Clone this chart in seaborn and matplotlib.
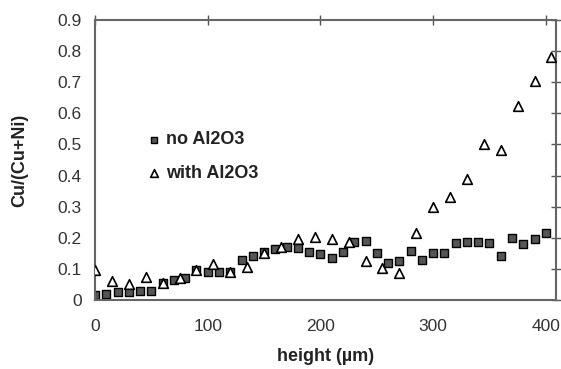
import numpy as np
import pandas as pd
import matplotlib
matplotlib.use("Agg")
import matplotlib.pyplot as plt
import seaborn as sns

# no Al2O3 (squares), height every 10 um
h_no = [0, 10, 20, 30, 40, 50, 60, 70, 80, 90, 100, 110, 120, 130, 140, 150, 160, 170,
        180, 190, 200, 210, 220, 230, 240, 250, 260, 270, 280, 290, 300, 310, 320, 330,
        340, 350, 360, 370, 380, 390, 400]
v_no = [0.016, 0.018, 0.025, 0.025, 0.03, 0.03, 0.055, 0.065, 0.07, 0.095, 0.09, 0.09,
        0.09, 0.128, 0.14, 0.154, 0.163, 0.17, 0.167, 0.155, 0.148, 0.135, 0.155, 0.187,
        0.19, 0.151, 0.12, 0.125, 0.158, 0.13, 0.15, 0.152, 0.183, 0.186, 0.186, 0.183,
        0.14, 0.2, 0.18, 0.195, 0.215]

# with Al2O3 (triangles), height every 15 um
h_with = [0, 15, 30, 45, 60, 75, 90, 105, 120, 135, 150, 165, 180, 195, 210, 225, 240,
          255, 270, 285, 300, 315, 330, 345, 360, 375, 390, 405]
v_with = [0.098, 0.062, 0.05, 0.074, 0.055, 0.07, 0.095, 0.115, 0.09, 0.105, 0.152, 0.17,
          0.195, 0.202, 0.197, 0.187, 0.126, 0.103, 0.087, 0.216, 0.30, 0.33, 0.39, 0.50,
          0.483, 0.624, 0.705, 0.78]

labels = ["no Al2O3", "with Al2O3"]

sns.set_style("white")
plt.rcParams['font.family'] = ['Liberation Sans', 'DejaVu Sans']

df_no = pd.DataFrame({"h": h_no, "v": v_no})
df_with = pd.DataFrame({"h": h_with, "v": v_with})

fig = plt.figure(figsize=(5.61, 3.69), dpi=100)
ax = fig.add_axes([95/561, 1-300/369, (556-95)/561, (300-20)/369])

sns.scatterplot(data=df_with, x="h", y="v", ax=ax, marker="^", s=48,
                facecolor="white", edgecolor="black", linewidth=1.2, label=labels[1], zorder=3)
sns.scatterplot(data=df_no, x="h", y="v", ax=ax, marker="s", s=36,
                color="#555555", edgecolor="black", linewidth=1.0, label=labels[0], zorder=2)

ax.set_xlim(0, 409)
ax.set_ylim(0, 0.9)
ax.set_xticks([0, 100, 200, 300, 400])
ax.set_yticks([0, 0.1, 0.2, 0.3, 0.4, 0.5, 0.6, 0.7, 0.8, 0.9])
ax.set_yticklabels(["0", "0.1", "0.2", "0.3", "0.4", "0.5", "0.6", "0.7", "0.8", "0.9"])
ax.tick_params(direction="inout", length=7, width=1, top=True, right=True,
               labelsize=12.5, labelcolor="#333333", color="#555555")
ax.tick_params(axis="x", pad=10)
ax.tick_params(axis="y", pad=6)
for sp in ax.spines.values():
    sp.set_color("#666666")
    sp.set_linewidth(1.5)

ax.set_xlabel("height (\u00b5m)", fontsize=13, fontweight="bold", color="#222222", labelpad=10)
ax.set_ylabel("Cu/(Cu+Ni)", fontsize=13, fontweight="bold", color="#222222", labelpad=21)

handles, labs = ax.get_legend_handles_labels()
order = [labs.index(labels[0]), labs.index(labels[1])]
leg = ax.legend([handles[i] for i in order], [labs[i] for i in order],
                loc="upper left", bbox_to_anchor=(0.075, 0.66), frameon=False,
                prop={"size": 13, "weight": "bold"}, handletextpad=0.2,
                labelspacing=0.9, markerscale=0.8, handlelength=0.9)
for t in leg.get_texts():
    t.set_color("#222222")

fig.savefig("out.png", dpi=100)
